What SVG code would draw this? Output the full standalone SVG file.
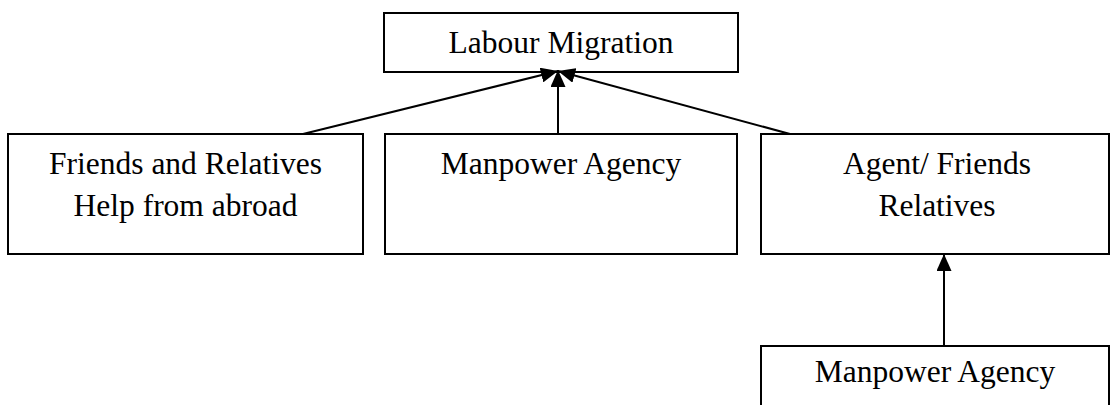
<svg xmlns="http://www.w3.org/2000/svg" width="1112" height="405" viewBox="0 0 1112 405">
<style>
.box{fill:#fff;stroke:#000;stroke-width:2}
.t{font-family:"Liberation Serif","Times New Roman",serif;font-size:31.5px;fill:#000;text-anchor:middle}
.c{stroke:#000;stroke-width:2;fill:none}
</style>
<defs>
<marker id="ah" viewBox="0 0 17 15" refX="17" refY="7.5" markerWidth="17" markerHeight="15" markerUnits="userSpaceOnUse" orient="auto">
<path d="M0,0 L17,7.5 L0,15 Z" fill="#000"/>
</marker>
</defs>
<rect width="1112" height="405" fill="#fff"/>
<g id="labour-migration"><rect class="box" x="384" y="13" width="354" height="59"/><text class="t" x="561" y="53">Labour Migration</text></g>
<g id="friends-relatives"><rect class="box" x="8" y="134" width="355" height="120"/><text class="t" x="185.5" y="174">Friends and Relatives</text><text class="t" x="185.5" y="216">Help from abroad</text></g>
<g id="manpower-agency-1"><rect class="box" x="385" y="134" width="352" height="120"/><text class="t" x="561" y="174">Manpower Agency</text></g>
<g id="agent-friends"><rect class="box" x="761" y="134" width="348" height="120"/><text class="t" x="937" y="174">Agent/ Friends</text><text class="t" x="937" y="216">Relatives</text></g>
<g id="manpower-agency-2"><rect class="box" x="761" y="346" width="348" height="70"/><text class="t" x="935" y="382">Manpower Agency</text></g>
<g id="connectors">
<line class="c" x1="303" y1="134" x2="558" y2="71" marker-end="url(#ah)"/>
<line class="c" x1="558" y1="134" x2="558" y2="70" marker-end="url(#ah)"/>
<line class="c" x1="790" y1="134" x2="558" y2="71" marker-end="url(#ah)"/>
<line class="c" x1="944" y1="346" x2="944" y2="254" marker-end="url(#ah)"/>
</g>
</svg>
